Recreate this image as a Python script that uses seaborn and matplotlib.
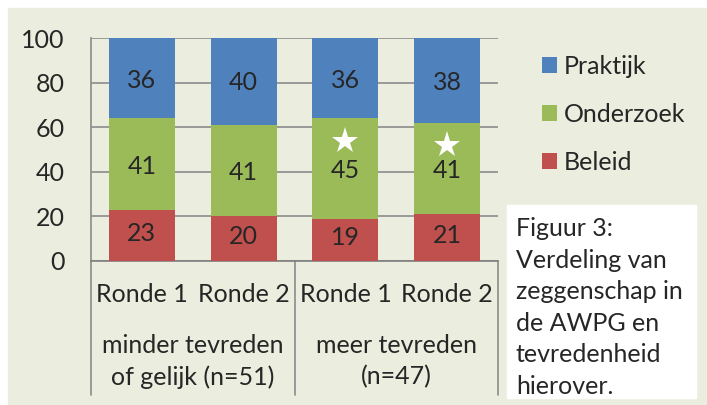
import numpy as np
import pandas as pd
import matplotlib
matplotlib.use("Agg")
import matplotlib.pyplot as plt
from matplotlib.patches import Rectangle
import seaborn as sns

# data
groups = ["minder tevreden\nof gelijk (n=51)", "meer tevreden\n(n=47)"]
rondes = ["Ronde 1", "Ronde 2", "Ronde 1", "Ronde 2"]
bar_ids = ["m_r1", "m_r2", "t_r1", "t_r2"]
beleid = [23, 20, 19, 21]
onderzoek = [41, 41, 45, 41]
praktijk = [36, 40, 36, 38]
star_bars = [2, 3]  # significant change marked with a star
segments = ["Praktijk", "Onderzoek", "Beleid"]
colors = ["#4F81BD", "#9BBB59", "#C0504D"]
caption = "Figuur 3:\nVerdeling van\nzeggenschap in\nde AWPG en\ntevredenheid\nhierover."

beleid = np.array(beleid)
onderzoek = np.array(onderzoek)
praktijk = np.array(praktijk)

# stacked bars via cumulative heights, tallest drawn first
rows = []
for i, b in enumerate(bar_ids):
    rows.append((b, "Praktijk", beleid[i] + onderzoek[i] + praktijk[i]))
    rows.append((b, "Onderzoek", beleid[i] + onderzoek[i]))
    rows.append((b, "Beleid", beleid[i]))
df = pd.DataFrame(rows, columns=["bar", "segment", "cum"])

sns.set_style("white")
plt.rcParams["font.family"] = ["Lato", "DejaVu Sans"]
fs = 18
bg = "#EBEEDE"
grey = "#8C8C8C"

fig = plt.figure(figsize=(7.07, 4.05), dpi=100, facecolor="white")
fig.patches.append(Rectangle((8 / 707, 0), 1 - 8 / 707, 1 - 8 / 405,
                             transform=fig.transFigure, color=bg, zorder=-10))
ax = fig.add_axes([91 / 707, 1 - 261 / 405, 407 / 707, 223 / 405])
ax.set_facecolor("none")

sns.barplot(data=df, x="bar", y="cum", hue="segment", hue_order=segments,
            palette=colors, order=bar_ids, dodge=False, width=0.65,
            saturation=1, linewidth=0, ax=ax, zorder=3)

ax.set_ylim(0, 100)
ax.set_xlim(-0.5, 3.5)
ax.set_yticks([0, 20, 40, 60, 80, 100])
ax.tick_params(axis="y", length=0, pad=19, labelsize=fs)
ax.yaxis.grid(True, color=grey, linewidth=1.2, zorder=0)
ax.set_axisbelow(True)
ax.set_xticks([])
ax.set_xlabel("")
ax.set_ylabel("")
for s in ["top", "right"]:
    ax.spines[s].set_visible(False)
ax.spines["left"].set_color(grey)
ax.spines["left"].set_linewidth(1.2)
ax.spines["bottom"].set_color("#7F7F7F")
ax.spines["bottom"].set_linewidth(1.2)

# segment labels
for i in range(len(bar_ids)):
    ax.text(i, beleid[i] / 2 + 1, str(beleid[i]), ha="center", va="center", fontsize=fs, zorder=5)
    ax.text(i, beleid[i] + onderzoek[i] / 2 - 1, str(onderzoek[i]), ha="center", va="center", fontsize=fs, zorder=5)
    ax.text(i, beleid[i] + onderzoek[i] + praktijk[i] / 2 - 1, str(praktijk[i]), ha="center", va="center", fontsize=fs, zorder=5)
for i in star_bars:
    ax.plot(i, beleid[i] + onderzoek[i] - 10, marker="*", color="white",
            markersize=20, markeredgewidth=0, zorder=6)

# two-level category axis
tr = ax.get_xaxis_transform()
for i, r in enumerate(rondes):
    ax.text(i, -0.152, r, transform=tr, ha="center", va="center", fontsize=fs, clip_on=False)
for g, lab in enumerate(groups):
    ax.text(2 * g + 0.5, -0.45, lab, transform=tr, ha="center", va="center",
            fontsize=fs, linespacing=1.4, clip_on=False)
for x in [-0.5, 1.5, 3.5]:
    ax.plot([x, x], [0, -0.60], transform=tr, color=grey, linewidth=1.2, clip_on=False)

# legend
handles, labels = ax.get_legend_handles_labels()
ax.legend(handles, labels, loc="upper left", bbox_to_anchor=(519 / 707, 1 - 32 / 405),
          bbox_transform=fig.transFigure, frameon=False, fontsize=fs,
          handlelength=0.6, handleheight=0.6, handletextpad=0.3, labelspacing=1.0)

# caption box
fig.patches.append(Rectangle((507 / 707, 1 - 398 / 405), 189 / 707, 193 / 405,
                             transform=fig.transFigure, color="white", zorder=1))
fig.text(516 / 707, 1 - 217 / 405, caption, ha="left", va="top", fontsize=fs,
         linespacing=1.45, zorder=2)

fig.savefig("out.png", dpi=100, facecolor="white")
